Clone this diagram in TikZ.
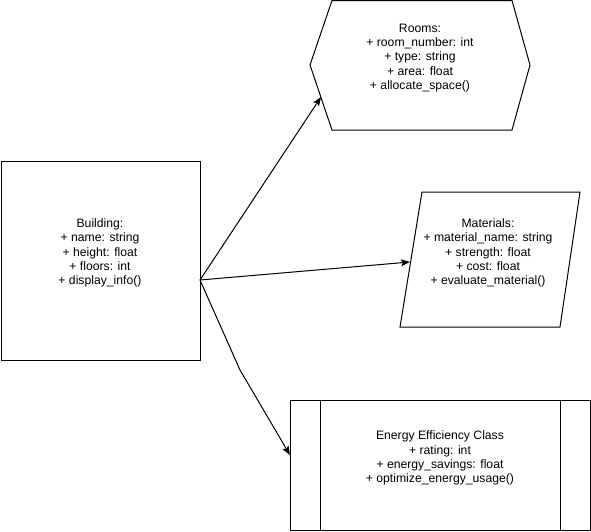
\documentclass[tikz,border=0pt]{standalone}
\usepackage{fontspec}
\setmainfont{Liberation Sans}
\usetikzlibrary{arrows.meta}
\begin{document}
\begin{tikzpicture}[x=1pt,y=-1pt,
  outline/.style={draw=black,line width=1pt,line join=miter},
  label/.style={align=center,inner sep=0pt,font=\fontsize{12.2}{14.2}\selectfont},
  link/.style={draw=black,line width=1pt,-{Stealth[length=9pt,width=7pt,inset=2pt]}}]
\useasboundingbox (0,0) rectangle (591,531);

% Building class box
\node[outline,minimum width=199pt,minimum height=199pt,inner sep=0pt,anchor=north west] (bld) at (0.5,160.5) {};
\node[label] (bldtxt) at (100,253) {Building:\\+ name: string\\+ height: float\\+ floors: int\\+ display\_info()};
\coordinate (bout) at (200,280);

% Rooms hexagon
\draw[outline] (310,65) -- (332,0.5) -- (512,0.5) -- (530,65) -- (512,130) -- (332,130) -- cycle;
\node[label] (rooms) at (420,58) {Rooms:\\+ room\_number: int\\+ type: string\\+ area: float\\+ allocate\_space()};
\coordinate (roomsin) at (321,97);

% Materials parallelogram
\draw[outline] (422,192) -- (580,192) -- (560,327) -- (400,327) -- cycle;
\node[label] (mat) at (488,253) {Materials:\\+ material\_name: string\\+ strength: float\\+ cost: float\\+ evaluate\_material()};
\coordinate (matin) at (410,262);

% Energy efficiency process box
\draw[outline] (290,400) rectangle (590,530);
\draw[outline] (320,400) -- (320,530);
\draw[outline] (560,400) -- (560,530);
\node[label] (energy) at (440,458) {Energy Efficiency Class\\+ rating: int\\+ energy\_savings: float\\+ optimize\_energy\_usage()};
\coordinate (energyin) at (290,455);
\coordinate (bend) at (240,370);

% Associations
\draw[link] (bout) -- (roomsin);
\draw[link] (bout) -- (matin);
\draw[link] (bout) -- (bend) -- (energyin);
\end{tikzpicture}
\end{document}
